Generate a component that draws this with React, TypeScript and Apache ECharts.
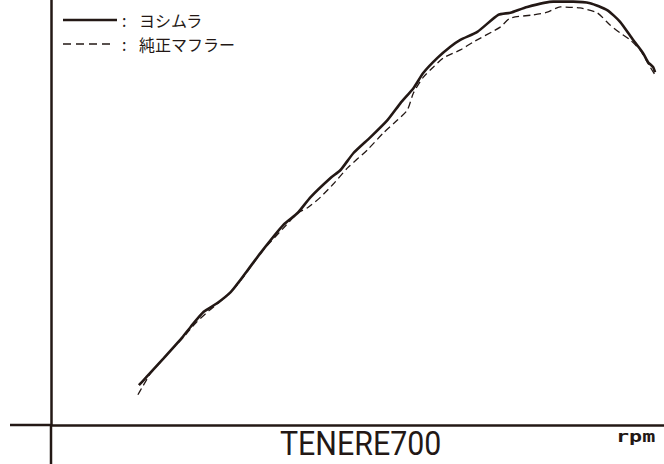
import React, { useEffect, useRef } from "react";
import * as echarts from "echarts";

// rpm (x) and output (y)
const yoshimuraRpm = [3147, 3238, 3472, 3720, 3824, 3993, 4176, 4345, 4450, 4736, 5036, 5218, 5388, 5648, 5779, 5948, 6170, 6391, 6561, 6730, 6860, 7043, 7212, 7342, 7564, 7837, 7994, 8215, 8554, 8815, 9036, 9258, 9427, 9596, 9727, 9792, 9857, 9883];
const yoshimuraPower = [7.5, 8.9, 12.6, 16.6, 18.5, 21.3, 23.0, 25.0, 26.9, 32.4, 37.7, 39.9, 42.9, 46.5, 48.0, 51.2, 54.2, 57.4, 60.6, 63.4, 66.3, 69.1, 71.2, 72.5, 74.0, 77.2, 77.6, 78.7, 79.7, 79.7, 79.4, 78.1, 75.9, 72.5, 70.0, 68.3, 67.4, 66.4];

const stockRpm = [3134, 3186, 3303, 3498, 3720, 3889, 4059, 4189, 4371, 4502, 4762, 5062, 5218, 5349, 5518, 5687, 5870, 6130, 6339, 6521, 6651, 6730, 6860, 6991, 7121, 7342, 7512, 7863, 7994, 8293, 8476, 8645, 8905, 9127, 9296, 9427, 9557, 9688, 9818, 9883];
const stockPower = [5.7, 7.0, 9.8, 13.0, 16.4, 19.2, 21.5, 23.0, 25.4, 27.7, 32.8, 37.5, 39.9, 40.9, 42.9, 45.4, 48.4, 51.8, 55.0, 57.4, 59.3, 62.5, 65.5, 67.4, 69.1, 70.6, 72.1, 74.9, 76.6, 77.2, 77.7, 78.7, 78.5, 77.6, 75.3, 73.8, 72.5, 70.6, 67.4, 65.9];

const seriesNames = ["ヨシムラ", "純正マフラー"];
const modelName = "TENERE700";
const xUnit = "rpm";

const INK = "#231815";
const JP = "'Noto Sans CJK JP', 'Noto Sans', sans-serif";

export default function App() {
  const ref = useRef<HTMLDivElement>(null);
  useEffect(() => {
    if (!ref.current) return;
    const chart = echarts.init(ref.current, undefined, { renderer: "svg" });
    const legendRows = seriesNames.map((name, i) => {
      const y = 20 + i * 24;
      return [
        {
          type: "line",
          shape: { x1: 63, y1: y, x2: i === 0 ? 117 : 110, y2: y },
          style: i === 0 ? { stroke: INK, lineWidth: 2.5 } : { stroke: INK, lineWidth: 1.3, lineDash: [8, 5] },
        },
        { type: "text", x: 122, y: y, style: { text: ":", font: `16px ${JP}`, lineHeight: 16, fill: INK, verticalAlign: "middle" } },
        { type: "text", x: 139, y: y, style: { text: name, font: `16px ${JP}`, lineHeight: 16, fill: INK, verticalAlign: "middle" } },
      ];
    }).flat();
    chart.setOption({
      animation: false,
      backgroundColor: "#ffffff",
      grid: { left: 51, right: 0, top: 0, bottom: 39 },
      xAxis: {
        type: "value",
        min: 2000,
        max: 10000,
        axisLine: { show: true, onZero: false, lineStyle: { color: INK, width: 2.5 } },
        axisTick: { show: false },
        axisLabel: { show: false },
        splitLine: { show: false },
      },
      yAxis: {
        type: "value",
        min: 0,
        max: 80,
        axisLine: { show: true, onZero: false, lineStyle: { color: INK, width: 2.5 } },
        axisTick: { show: false },
        axisLabel: { show: false },
        splitLine: { show: false },
      },
      graphic: [
        { type: "line", shape: { x1: 10, y1: 425, x2: 52, y2: 425 }, style: { stroke: INK, lineWidth: 2.5 } },
        { type: "line", shape: { x1: 51, y1: 424, x2: 51, y2: 464 }, style: { stroke: INK, lineWidth: 2.5 } },
        ...legendRows,
        {
          type: "text",
          x: 280,
          y: 444,
          scaleX: 0.92,
          style: { text: modelName, font: "33px Roboto", lineHeight: 30, fill: INK, verticalAlign: "middle" },
        },
        {
          type: "text",
          x: 616,
          y: 437,
          scaleX: 1.45,
          style: { text: xUnit, font: "bold 15px 'DejaVu Sans Mono'", lineHeight: 16, fill: INK, verticalAlign: "middle" },
        },
      ],
      series: [
        {
          name: seriesNames[0],
          type: "line",
          data: yoshimuraRpm.map((r, i) => [r, yoshimuraPower[i]]),
          showSymbol: false,
          symbol: "none",
          smooth: 0.2,
          lineStyle: { color: INK, width: 2.6, type: "solid" },
        },
        {
          name: seriesNames[1],
          type: "line",
          data: stockRpm.map((r, i) => [r, stockPower[i]]),
          showSymbol: false,
          symbol: "none",
          smooth: 0.2,
          lineStyle: { color: INK, width: 1.3, type: [7, 4] },
        },
      ],
    });
    return () => chart.dispose();
  }, []);
  return <div ref={ref} style={{ position: "absolute", left: 0, top: 0, width: 664, height: 464 }} />;
}
